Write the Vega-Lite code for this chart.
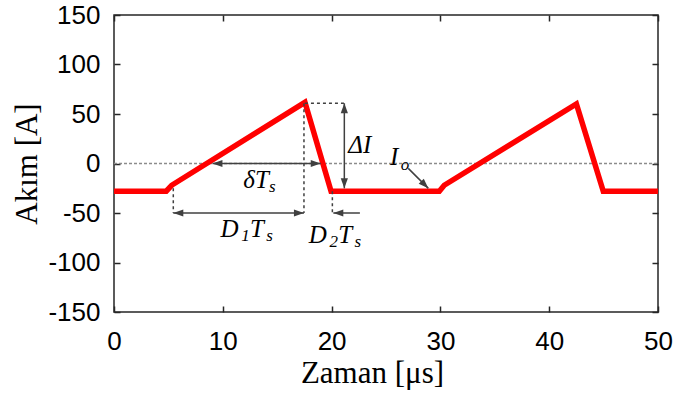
{
  "$schema": "https://vega.github.io/schema/vega-lite/v6.json",
  "width": 544,
  "height": 297,
  "autosize": {"type": "none"},
  "padding": {"left": 114, "top": 15, "right": 20, "bottom": 85},
  "background": "white",
  "datasets": {
    "wave": [
      {"t": 0, "i": -28}, {"t": 4.8, "i": -28}, {"t": 5.3, "i": -22}, {"t": 17.55, "i": 61.8},
      {"t": 19.95, "i": -28}, {"t": 29.9, "i": -28}, {"t": 30.35, "i": -22}, {"t": 42.5, "i": 60.1},
      {"t": 44.97, "i": -28}, {"t": 50, "i": -28}
    ],
    "zero": [{"x": 0, "y": 0, "x2": 50, "y2": 0}],
    "guides": [
      {"x": 17.55, "y": 60.8, "x2": 21.17, "y2": 60.8},
      {"x": 17.46, "y": 60.8, "x2": 17.46, "y2": -50},
      {"x": 5.45, "y": -25, "x2": 5.45, "y2": -50},
      {"x": 20.07, "y": -28, "x2": 20.07, "y2": -50}
    ],
    "shafts": [
      {"x": 21.17, "y": 60.8, "x2": 21.17, "y2": -25.1},
      {"x": 9.05, "y": 0, "x2": 19.0, "y2": 0},
      {"x": 5.45, "y": -50, "x2": 17.46, "y2": -50},
      {"x": 22.6, "y": -50, "x2": 20.16, "y2": -50},
      {"x": 27.05, "y": -4.9, "x2": 28.89, "y2": -25.1}
    ],
    "heads": [
      {"x": 21.17, "y": 60.8, "direction": 270},
      {"x": 21.17, "y": -25.1, "direction": 90},
      {"x": 9.05, "y": 0, "direction": 180},
      {"x": 19.0, "y": 0, "direction": 0},
      {"x": 5.45, "y": -50, "direction": 180},
      {"x": 17.46, "y": -50, "direction": 0},
      {"x": 20.16, "y": -50, "direction": 180},
      {"x": 28.89, "y": -25.1, "direction": 45}
    ],
    "labels": [
      {"x": 21.54, "y": 10.3, "text": "ΔI", "role": "main"},
      {"x": 25.37, "y": -1.5, "text": "I", "role": "main"},
      {"x": 26.35, "y": -6.6, "text": "o", "role": "sub"},
      {"x": 11.89, "y": -24.8, "text": "δT", "role": "main"},
      {"x": 14.25, "y": -28.5, "text": "s", "role": "sub"},
      {"x": 9.8, "y": -73.9, "text": "D", "role": "main"},
      {"x": 11.7, "y": -78.7, "text": "1", "role": "sub"},
      {"x": 12.5, "y": -73.9, "text": "T", "role": "main"},
      {"x": 14.0, "y": -78.7, "text": "s", "role": "sub"},
      {"x": 17.9, "y": -80, "text": "D", "role": "main"},
      {"x": 19.8, "y": -84.5, "text": "2", "role": "sub"},
      {"x": 20.6, "y": -80, "text": "T", "role": "main"},
      {"x": 22.1, "y": -84.5, "text": "s", "role": "sub"}
    ]
  },
  "layer": [
    {
      "data": {"name": "zero"},
      "mark": {"type": "rule", "color": "#8c8c8c", "strokeDash": [3, 2], "strokeWidth": 1.3},
      "encoding": {
        "x": {"field": "x", "type": "quantitative", "scale": {"domain": [0, 50], "nice": false, "zero": false},
              "axis": {"orient": "top", "labels": false, "grid": false, "title": null, "values": [0, 10, 20, 30, 40, 50]}},
        "x2": {"field": "x2"},
        "y": {"field": "y", "type": "quantitative", "scale": {"domain": [-150, 150], "nice": false, "zero": false},
              "axis": {"orient": "right", "labels": false, "grid": false, "title": null, "values": [-150, -100, -50, 0, 50, 100, 150]}}
      }
    },
    {
      "data": {"name": "wave"},
      "mark": {"type": "line", "color": "#ff0000", "strokeWidth": 5.5, "strokeJoin": "miter"},
      "encoding": {
        "x": {"field": "t", "type": "quantitative",
              "axis": {"orient": "bottom", "title": "Zaman [μs]", "values": [0, 10, 20, 30, 40, 50], "labelPadding": 22, "titlePadding": 4, "titleX": 258}},
        "y": {"field": "i", "type": "quantitative",
              "axis": {"orient": "left", "title": "Akım [A]", "values": [-150, -100, -50, 0, 50, 100, 150], "labelPadding": 20, "titlePadding": 4,
                       "labelExpr": "replace(datum.label, '−', '-')"}}
      }
    },
    {
      "data": {"name": "guides"},
      "mark": {"type": "rule", "color": "#404040", "strokeDash": [3, 3], "strokeWidth": 1.5},
      "encoding": {
        "x": {"field": "x", "type": "quantitative", "axis": null},
        "y": {"field": "y", "type": "quantitative", "axis": null},
        "x2": {"field": "x2"},
        "y2": {"field": "y2"}
      }
    },
    {
      "data": {"name": "shafts"},
      "mark": {"type": "rule", "color": "#404040", "strokeWidth": 1.5},
      "encoding": {
        "x": {"field": "x", "type": "quantitative", "axis": null},
        "y": {"field": "y", "type": "quantitative", "axis": null},
        "x2": {"field": "x2"},
        "y2": {"field": "y2"}
      }
    },
    {
      "data": {"name": "heads"},
      "mark": {"type": "point", "shape": "M0,0L-2,-0.72L-2,0.72Z", "filled": true, "color": "#404040", "opacity": 1, "size": 100},
      "encoding": {
        "x": {"field": "x", "type": "quantitative", "axis": null},
        "y": {"field": "y", "type": "quantitative", "axis": null},
        "angle": {"field": "direction", "type": "quantitative", "scale": null}
      }
    },
    {
      "data": {"name": "labels"},
      "transform": [{"filter": "datum.role === 'main'"}],
      "mark": {"type": "text", "font": "Liberation Serif", "fontStyle": "italic", "fontSize": 25, "align": "left", "baseline": "alphabetic", "color": "#000000"},
      "encoding": {
        "x": {"field": "x", "type": "quantitative", "axis": null},
        "y": {"field": "y", "type": "quantitative", "axis": null},
        "text": {"field": "text"}
      }
    },
    {
      "data": {"name": "labels"},
      "transform": [{"filter": "datum.role === 'sub'"}],
      "mark": {"type": "text", "font": "Liberation Serif", "fontStyle": "italic", "fontSize": 17, "align": "left", "baseline": "alphabetic", "color": "#000000"},
      "encoding": {
        "x": {"field": "x", "type": "quantitative", "axis": null},
        "y": {"field": "y", "type": "quantitative", "axis": null},
        "text": {"field": "text"}
      }
    }
  ],
  "resolve": {"axis": {"x": "independent", "y": "independent"}},
  "config": {
    "view": {"stroke": "#262626", "strokeWidth": 1.5},
    "axis": {
      "domain": false,
      "grid": true,
      "gridColor": "#dcdcdc",
      "gridWidth": 1,
      "ticks": true,
      "tickColor": "#262626",
      "tickWidth": 1.5,
      "tickSize": -6,
      "labelFont": "Liberation Sans",
      "labelFontSize": 26,
      "labelColor": "#000000",
      "labelFlush": false,
      "labelOverlap": false,
      "titleFont": "Liberation Serif",
      "titleFontSize": 31,
      "titleFontWeight": "normal",
      "titleColor": "#000000"
    }
  }
}
